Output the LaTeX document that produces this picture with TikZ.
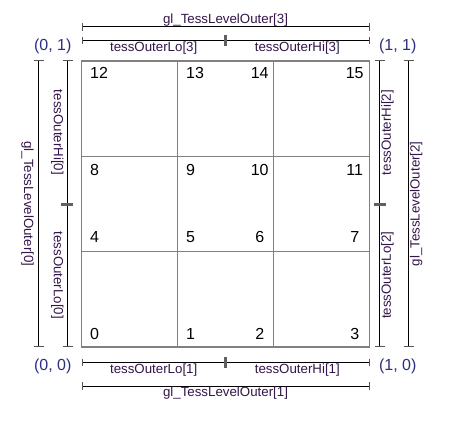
\documentclass[tikz,border=0pt]{standalone}
\usepackage{fontspec}
\setmainfont{Liberation Sans}
\definecolor{lbl}{HTML}{33154A}
\definecolor{crn}{HTML}{2A2F80}
\definecolor{gridc}{HTML}{808080}
\definecolor{tickc}{HTML}{555555}
\begin{document}
\begin{tikzpicture}[x=1pt,y=-1pt,
  lab/.style={font=\fontsize{13.3}{15}\selectfont, text=lbl, inner sep=0pt},
  num/.style={font=\fontsize{16}{18}\selectfont, inner sep=0pt},
  crnlab/.style={font=\fontsize{16}{18}\selectfont, text=crn, inner sep=0pt},
  dimline/.style={line width=1pt, black},
  endtick/.style={line width=1pt, tickc},
  midtick/.style={line width=2.6pt, gray!75!black},
  gridline/.style={line width=1.2pt, gridc}]
\useasboundingbox (0,0) rectangle (460,425);
% grid
\draw[gridline] (81.5,61) rectangle (369.5,347);
\draw[gridline] (177.5,61) -- (177.5,347);
\draw[gridline] (273.5,61) -- (273.5,347);
\draw[gridline] (81.5,156.3) -- (369.5,156.3);
\draw[gridline] (81.5,251.7) -- (369.5,251.7);
% numbers
\foreach \n/\y in {12/79,8/175,4/242.7,0/339} \node[num,anchor=base west] (n\n) at (90,\y) {\n};
\foreach \n/\y in {13/79,9/175,5/242.7,1/339} \node[num,anchor=base west] (n\n) at (186,\y) {\n};
\foreach \n/\y in {14/79,10/175,6/242.7,2/339} \node[num,anchor=base] (n\n) at (259.7,\y) {\n};
\foreach \n/\y in {15/79,11/175,7/242.7,3/339} \node[num,anchor=base] (n\n) at (354.7,\y) {\n};
% corner labels
\node[crnlab] (c01) at (52.7,46.3) {(0, 1)};
\node[crnlab] (c11) at (397.7,46.3) {(1, 1)};
\node[crnlab] (c00) at (52.7,366.7) {(0, 0)};
\node[crnlab] (c10) at (397.7,366.7) {(1, 0)};
% top
\coordinate (ta) at (82,27); \coordinate (tb) at (369,27);
\coordinate (ua) at (82,40.7); \coordinate (ub) at (369,40.7); \coordinate (um) at (225.5,40.7);
\draw[dimline] (ta) -- (tb);
\draw[dimline] (ua) -- (ub);
\draw[endtick] (82,23.3) -- (82,30.7); \draw[endtick] (369,23.3) -- (369,30.7);
\draw[endtick] (82,37) -- (82,44.4); \draw[endtick] (369,37) -- (369,44.4);
\draw[midtick] (225.5,35) -- (225.5,46.5);
\node[lab] (l3) at (225.5,20) {gl\_TessLevelOuter[3]};
\node[lab] (lo3) at (153.7,48.5) {tessOuterLo[3]};
\node[lab] (hi3) at (297.3,48.5) {tessOuterHi[3]};
% bottom
\coordinate (ba) at (82,362.3); \coordinate (bb) at (369,362.3);
\coordinate (va) at (82,386); \coordinate (vb) at (369,386);
\draw[dimline] (ba) -- (bb);
\draw[dimline] (va) -- (vb);
\draw[endtick] (82,358.6) -- (82,366); \draw[endtick] (369,358.6) -- (369,366);
\draw[endtick] (82,382.3) -- (82,389.7); \draw[endtick] (369,382.3) -- (369,389.7);
\draw[midtick] (225.5,356.5) -- (225.5,368);
\node[lab] (lo1) at (153.7,369.7) {tessOuterLo[1]};
\node[lab] (hi1) at (297.3,369.7) {tessOuterHi[1]};
\node[lab] (l1) at (225.5,392.8) {gl\_TessLevelOuter[1]};
% left
\draw[dimline] (38.7,61) -- (38.7,346.5);
\draw[dimline] (67.7,61) -- (67.7,346.5);
\draw[endtick] (33.7,61) -- (43.7,61); \draw[endtick] (33.7,346.5) -- (43.7,346.5);
\draw[endtick] (62.7,61) -- (72.7,61); \draw[endtick] (62.7,346.5) -- (72.7,346.5);
\draw[midtick] (61,204.3) -- (72.5,204.3);
\node[lab,rotate=-90] (l0) at (27.5,203.8) {gl\_TessLevelOuter[0]};
\node[lab,rotate=-90] (hi0) at (57.3,132.5) {tessOuterHi[0]};
\node[lab,rotate=-90] (lo0) at (57.3,275.3) {tessOuterLo[0]};
% right
\draw[dimline] (379.7,61) -- (379.7,346.5);
\draw[dimline] (408.7,61) -- (408.7,346.5);
\draw[endtick] (374.7,61) -- (384.7,61); \draw[endtick] (374.7,346.5) -- (384.7,346.5);
\draw[endtick] (403.7,61) -- (413.7,61); \draw[endtick] (403.7,346.5) -- (413.7,346.5);
\draw[midtick] (374,204.3) -- (385.5,204.3);
\node[lab,rotate=90] (hi2) at (387.5,132.5) {tessOuterHi[2]};
\node[lab,rotate=90] (lo2) at (387.5,275.3) {tessOuterLo[2]};
\node[lab,rotate=90] (l2) at (416.2,203.8) {gl\_TessLevelOuter[2]};
\end{tikzpicture}
\end{document}
